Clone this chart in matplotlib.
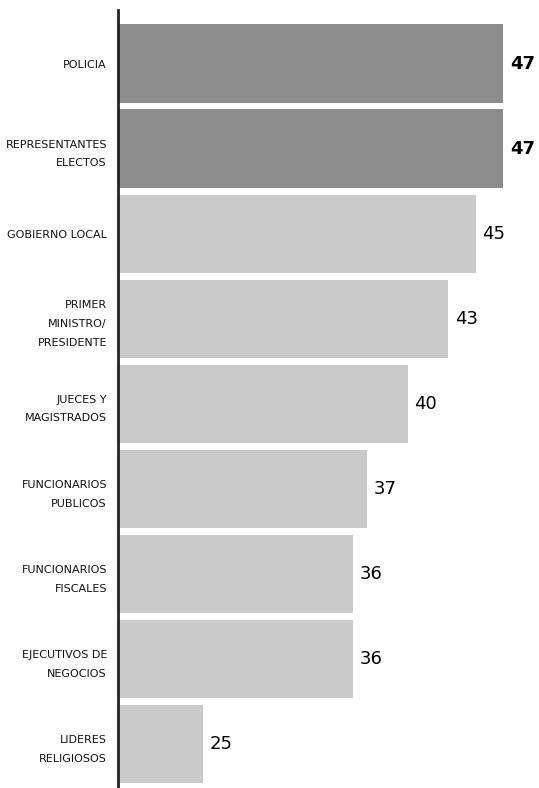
import matplotlib
matplotlib.use('Agg')
import matplotlib.pyplot as plt

labels = ['POLICIA', 'REPRESENTANTES\nELECTOS', 'GOBIERNO LOCAL',
          'PRIMER\nMINISTRO/\nPRESIDENTE', 'JUECES Y\nMAGISTRADOS',
          'FUNCIONARIOS\nPUBLICOS', 'FUNCIONARIOS\nFISCALES',
          'EJECUTIVOS DE\nNEGOCIOS', 'LIDERES\nRELIGIOSOS']
values = [47, 47, 45, 43, 40, 37, 36, 36, 25]
highlight = [True, True, False, False, False, False, False, False, False]

fig = plt.figure(figsize=(5.39, 7.88), dpi=100)
ax = fig.add_axes([118 / 539, 0, 1 - 118 / 539, 1 - 10 / 788])

xmin = 18.77
pos = list(range(len(values)))
colors = ['#8c8c8c' if h else '#cacaca' for h in highlight]
ax.barh(pos, [v - xmin for v in values], left=xmin, height=0.92, color=colors)

for p, v, h in zip(pos, values, highlight):
    ax.text(v + 0.5, p, str(v), va='center', ha='left', fontsize=13,
            fontweight='bold' if h else 'normal', color='black')

ax.set_xlim(xmin, 49.64)
ax.set_ylim(8.52, -0.63)
ax.set_yticks(pos)
ax.set_yticklabels(labels, fontsize=8, linespacing=2.1, color='#111111')
ax.tick_params(axis='y', length=0, pad=8)
ax.set_xticks([])

for s in ['top', 'right', 'bottom']:
    ax.spines[s].set_visible(False)
ax.spines['left'].set_linewidth(2)
ax.spines['left'].set_color('#222222')

fig.savefig('out.png', dpi=100)
